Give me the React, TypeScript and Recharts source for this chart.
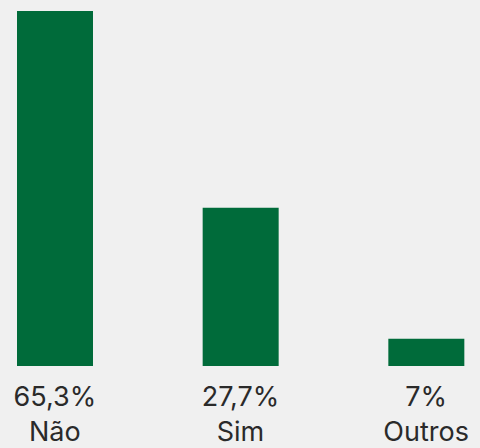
import { BarChart, Bar, XAxis, YAxis } from 'recharts';

const categories = ['Não', 'Sim', 'Outros'];
const percentLabels = ['65,3%', '27,7%', '7%'];
// bar heights as drawn in the picture
const values = [65.3, 29.1, 5.0];

const data = categories.map((name, i) => ({
  name,
  label: percentLabels[i],
  value: values[i],
}));

function TwoLineTick(props: any) {
  const { x, y, index } = props;
  return (
    <g>
      <text x={x} y={y + 32} textAnchor="middle" fontSize={27} fill="#2a2a2a">
        {percentLabels[index]}
      </text>
      <text x={x} y={y + 67} textAnchor="middle" fontSize={27} fill="#2a2a2a">
        {categories[index]}
      </text>
    </g>
  );
}

export default function App() {
  return (
    <div style={{ width: 480, height: 448, background: '#f0f0f0', fontFamily: 'Inter, sans-serif' }}>
      <style>{`body{margin:0;background:#f0f0f0}`}</style>
      <BarChart
        width={480}
        height={448}
        data={data}
        margin={{ top: 11, right: -39, bottom: 0, left: -38 }}
      >
        <XAxis
          dataKey="name"
          axisLine={false}
          tickLine={false}
          height={82}
          tick={<TwoLineTick />}
          interval={0}
        />
        <YAxis hide domain={[0, 65.3]} />
        <Bar dataKey="value" fill="#006b3a" barSize={76} isAnimationActive={false} />
      </BarChart>
    </div>
  );
}
